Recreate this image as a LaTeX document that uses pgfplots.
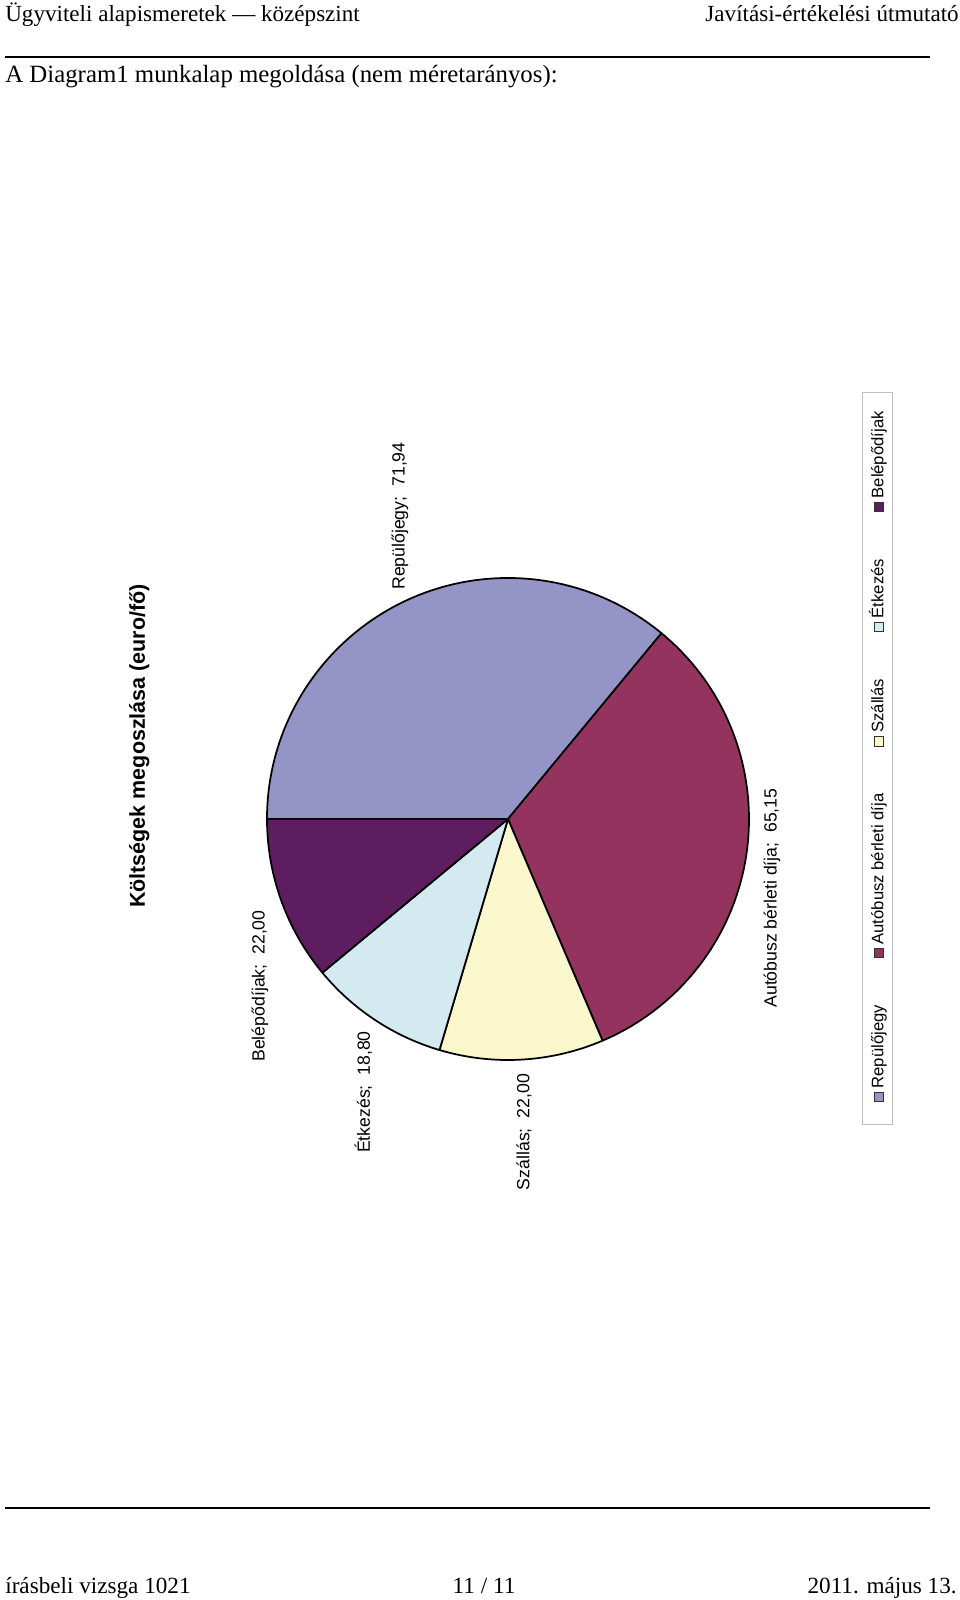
\documentclass[border=0pt]{standalone}
\usepackage{fontspec}
\setmainfont{Liberation Serif}
\setsansfont{Liberation Sans}
\usepackage{pgfplots}
\usepackage{pgfplotstable}
\pgfplotsset{compat=1.18}
\definecolor{slice0}{RGB}{149,148,199}
\definecolor{slice1}{RGB}{149,51,95}
\definecolor{slice2}{RGB}{250,247,205}
\definecolor{slice3}{RGB}{212,234,240}
\definecolor{slice4}{RGB}{94,29,94}
\newcommand\lkey[1]{{\setlength{\fboxsep}{0pt}\setlength{\fboxrule}{0.6pt}\fcolorbox{black!80}{#1}{\rule{0pt}{5.2pt}\rule{5.2pt}{0pt}}}\hspace{2pt}}

\pgfplotstableread[col sep=comma]{
idx,value
0,71.94
1,65.15
2,22.00
3,18.80
4,22.00
}\piedata

\begin{document}
\begin{tikzpicture}[x=0.6pt,y=0.6pt]
\path[use as bounding box] (0,0) rectangle (960,-1600);
% page header
\node[anchor=base west, font=\fontsize{13.85}{16}\selectfont, inner sep=0] at (5,-22) {Ügyviteli alapismeretek — középszint};
\node[anchor=base east, font=\fontsize{13.85}{16}\selectfont, inner sep=0] at (959,-22) {Javítási-értékelési útmutató};
\draw[line width=0.75pt] (5,-57) -- (930,-57);
\node[anchor=base west, font=\fontsize{14.9}{18}\selectfont, inner sep=0] at (5,-83) {A Diagram1 munkalap megoldása (nem méretarányos):};
% page footer
\draw[line width=0.75pt] (5,-1508) -- (930,-1508);
\node[anchor=base west, font=\fontsize{13.9}{16}\selectfont, inner sep=0] at (5,-1593) {írásbeli vizsga 1021};
\node[anchor=base, font=\fontsize{13.9}{16}\selectfont, inner sep=0] at (484,-1593) {11 / 11};
\node[anchor=base east, font=\fontsize{13.9}{16}\selectfont, inner sep=0] at (957,-1593) {2011. május 13.};

\begin{axis}[
  at={(304.8pt,-491.4pt)}, anchor=center,
  x=144.6pt, y=144.6pt,
  xmin=-1, xmax=1, ymin=-1, ymax=1,
  hide axis, clip=false,
]
\pgfplotstablegetrowsof{\piedata}
\pgfmathtruncatemacro{\nrows}{\pgfplotsretval-1}
\def\total{0}
\pgfplotsforeachungrouped \i in {0,...,\nrows}{%
  \pgfplotstablegetelem{\i}{value}\of\piedata
  \pgfmathsetmacro{\total}{\total+\pgfplotsretval}%
}
\def\startangle{180}
\pgfplotsforeachungrouped \i in {0,...,\nrows}{%
  \pgfplotstablegetelem{\i}{value}\of\piedata
  \pgfmathsetmacro{\endangle}{\startangle-\pgfplotsretval/\total*360}%
  \edef\temp{\noexpand\filldraw[fill=slice\i, draw=black, line width=1.05pt, line join=round]
    (axis cs:0,0) -- (axis cs:{cos(\startangle)},{sin(\startangle)})
    arc[start angle=\startangle, end angle=\endangle, radius=144.6pt] -- cycle;}%
  \temp
  \let\startangle\endangle
}
% legend (rotated, as in the reference)
\node[rotate=90, draw=black!25, line width=0.6pt, fill=white,
      font=\sffamily\fontsize{10}{12}\selectfont,
      inner xsep=11.4pt, inner ysep=0pt, minimum height=18pt]
  at (axis cs:1.535,0.251)
  {\hspace{2pt}\lkey{slice0}Repülőjegy\hspace{28pt}\lkey{slice1}Autóbusz bérleti díja\hspace{28pt}\lkey{slice2}Szállás\hspace{28pt}\lkey{slice3}Étkezés\hspace{28pt}\lkey{slice4}Belépődíjak};
% data labels and title
\node[rotate=90, font=\sffamily\fontsize{10.6}{12}\selectfont] at (axis cs:-0.448,1.257) {Repülőjegy;\ \ 71,94};
\node[rotate=90, font=\sffamily\fontsize{10.6}{12}\selectfont] at (axis cs:1.095,-0.328) {Autóbusz bérleti díja;\ \ 65,15};
\node[rotate=90, font=\sffamily\fontsize{10.6}{12}\selectfont] at (axis cs:0.066,-1.299) {Szállás;\ \ 22,00};
\node[rotate=90, font=\sffamily\fontsize{10.6}{12}\selectfont] at (axis cs:-0.600,-1.133) {Étkezés;\ \ 18,80};
\node[rotate=90, font=\sffamily\fontsize{10.6}{12}\selectfont] at (axis cs:-1.029,-0.693) {Belépődíjak;\ \ 22,00};
\node[rotate=90, font=\sffamily\bfseries\fontsize{12.9}{15}\selectfont] at (axis cs:-1.53,0.303) {Költségek megoszlása (euro/fő)};
\end{axis}
\end{tikzpicture}
\end{document}
